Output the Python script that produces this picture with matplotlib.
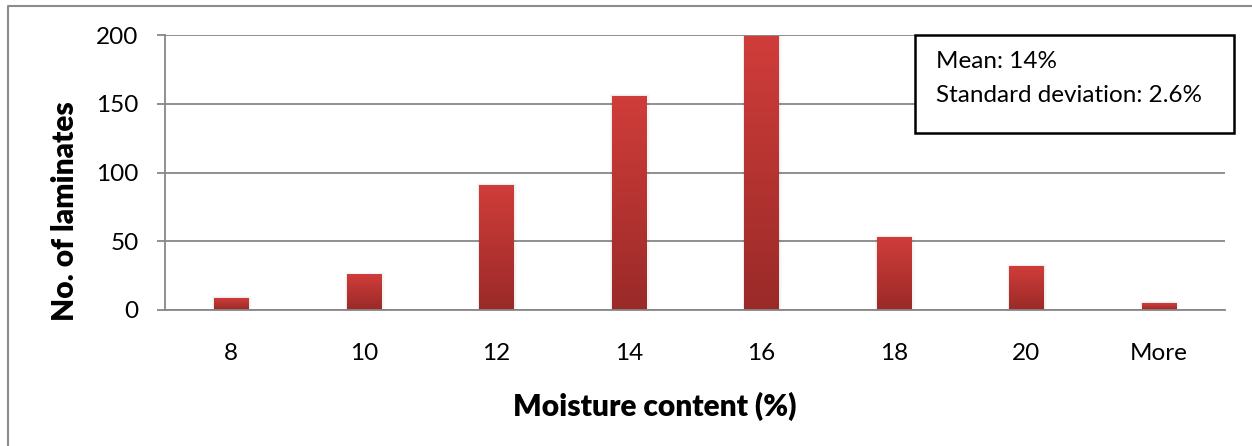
import numpy as np
import matplotlib
matplotlib.use("Agg")
import matplotlib.pyplot as plt
from matplotlib.colors import LinearSegmentedColormap
from matplotlib.lines import Line2D
from matplotlib.patches import Rectangle

plt.rcParams['font.family'] = ['Lato', 'DejaVu Sans']

# histogram bins of moisture content and laminate counts
bins = ['8', '10', '12', '14', '16', '18', '20', 'More']
counts = [9, 26, 91, 156, 199, 53, 32, 5]
stats_text = ['Mean: 14%', 'Standard deviation: 2.6%']
y_ticks = [0, 50, 100, 150, 200]

W, H = 1252, 446
fig = plt.figure(figsize=(W / 100, H / 100), dpi=100)

ax = fig.add_axes([165 / W, 1 - 310 / H, (1225 - 165) / W, (310 - 35) / H])

grid_col = '#878787'
x = np.arange(len(bins))
bar_w = 0.26
bars = ax.bar(x, counts, width=bar_w, color='none', edgecolor='none', zorder=3)

# vertical red gradient inside each bar, plus a faint soft shadow
cmap = LinearSegmentedColormap.from_list('redgrad', ['#9a2a28', '#d03d3a'])
grad = np.linspace(0, 1, 256).reshape(-1, 1)
for b in bars:
    bx, by = b.get_x(), b.get_y()
    bw, bh = b.get_width(), b.get_height()
    for k, a in enumerate([0.035, 0.025, 0.015]):
        pad = 0.012 * (k + 1)
        ax.add_patch(Rectangle((bx - pad * 0.4, by), bw + pad * 1.2, bh + pad * 40,
                               facecolor='black', alpha=a, edgecolor='none', zorder=2.5))
    im = ax.imshow(grad, cmap=cmap, aspect='auto', origin='lower',
                   extent=(bx, bx + bw, by, by + bh), zorder=3)
    im.set_clip_path(b)

ax.set_xlim(-0.5, len(bins) - 0.5)
ax.set_ylim(0, 200)
ax.set_yticks(y_ticks)
ax.set_xticks(x)
ax.set_xticklabels(bins)

ax.yaxis.grid(True, color=grid_col, linewidth=1.3, zorder=1)
ax.set_axisbelow(True)
for side in ['top', 'right']:
    ax.spines[side].set_visible(False)
for side in ['left', 'bottom']:
    ax.spines[side].set_color(grid_col)
    ax.spines[side].set_linewidth(1.3)
ax.spines['bottom'].set_zorder(4)

ax.tick_params(axis='y', direction='out', length=6, width=1.3, color=grid_col,
               labelsize=17.5, pad=13)
ax.tick_params(axis='x', length=0, labelsize=17.5, pad=24)

fig.text(65 / W, 1 - 211 / H, 'No. of laminates', rotation=90, ha='center', va='center',
         fontsize=21.5, fontweight='heavy')
fig.text(655 / W, 1 - 406 / H, 'Moisture content (%)', ha='center', va='center',
         fontsize=21.5, fontweight='heavy')

# statistics box in the upper right
fig.add_artist(Rectangle((915 / W, 1 - 133 / H), (1234 - 915) / W, (133 - 35) / H,
                         transform=fig.transFigure, facecolor='white', edgecolor='black',
                         linewidth=1.8, zorder=5))
for i, s in enumerate(stats_text):
    fig.text(936 / W, 1 - (62 + 33 * i) / H, s, ha='left', va='center', fontsize=17.5, zorder=6)

# outer chart-area border (left and top edges)
fig.add_artist(Line2D([8 / W, 8 / W, 1.0], [0.0, 1 - 6 / H, 1 - 6 / H],
                      transform=fig.transFigure, color='#8c8c8c', linewidth=1.5))

fig.savefig('out.png', dpi=100)
